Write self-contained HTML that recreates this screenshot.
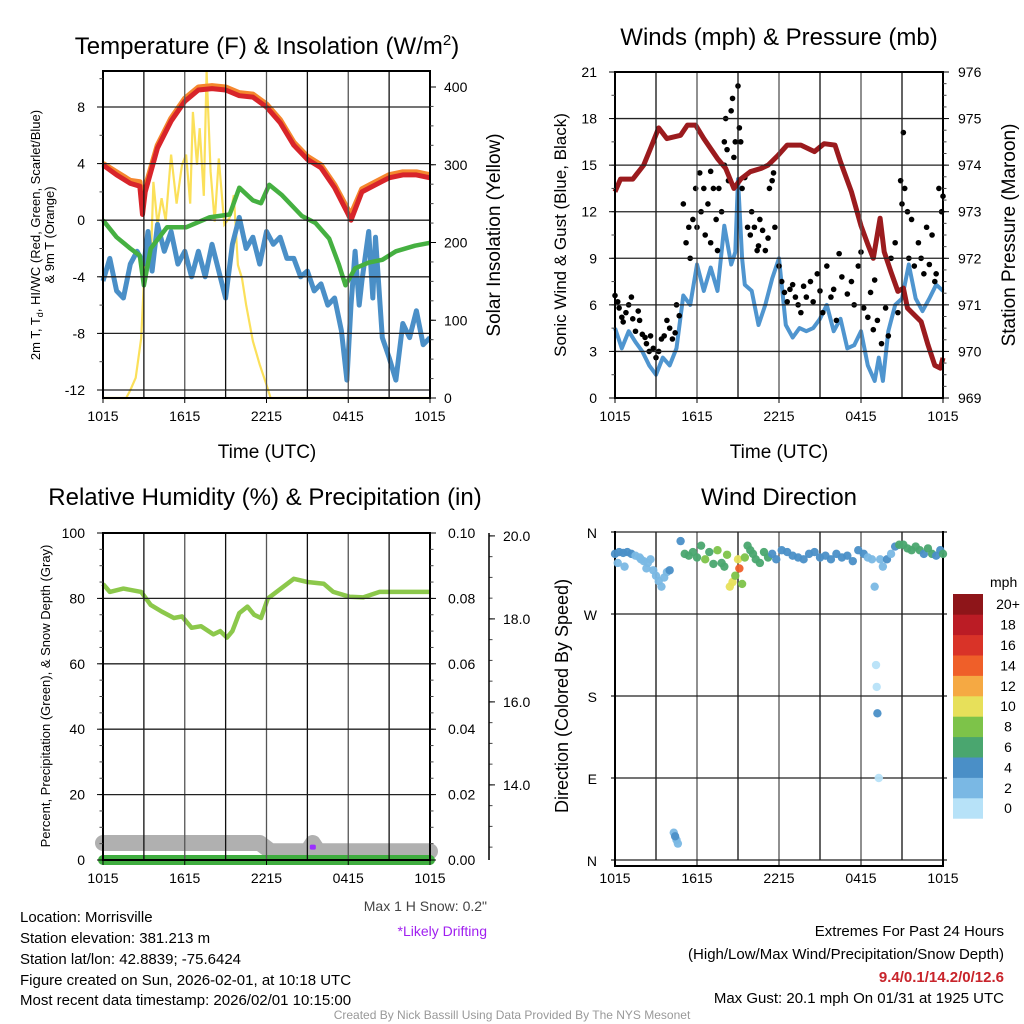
<!DOCTYPE html>
<html><head><meta charset="utf-8">
<style>
html,body{margin:0;padding:0;background:#fff;}
svg{display:block;font-family:"Liberation Sans",sans-serif;}
.nar{font-family:"Liberation Sans Narrow","Liberation Sans",sans-serif;}
</style></head>
<body>
<svg id="fig" width="1024" height="1024" viewBox="0 0 1024 1024" xmlns="http://www.w3.org/2000/svg">
<g id="layer"></g>
<!-- titles -->
<text x="267" y="54" font-size="24" text-anchor="middle">Temperature (F) &amp; Insolation (W/m<tspan dy="-9" font-size="15">2</tspan><tspan dy="9">)</tspan></text>
<text x="779" y="45" font-size="24" text-anchor="middle">Winds (mph) &amp; Pressure (mb)</text>
<text x="265" y="505" font-size="24" text-anchor="middle">Relative Humidity (%) &amp; Precipitation (in)</text>
<text x="779" y="505" font-size="24" text-anchor="middle">Wind Direction</text>
<text x="267" y="458" font-size="19" text-anchor="middle">Time (UTC)</text>
<text x="779" y="458" font-size="19" text-anchor="middle">Time (UTC)</text>
<text transform="translate(40,235) rotate(-90)" font-size="13" text-anchor="middle">2m T, T<tspan dy="3" font-size="9">d</tspan><tspan dy="-3">, HI/WC (Red, Green, Scarlet/Blue)</tspan></text>
<text transform="translate(54,235) rotate(-90)" font-size="13" text-anchor="middle">&amp; 9m T (Orange)</text>
<text transform="translate(500,235) rotate(-90)" font-size="19" text-anchor="middle">Solar Insolation (Yellow)</text>
<text transform="translate(566,235) rotate(-90)" font-size="17" text-anchor="middle">Sonic Wind &amp; Gust (Blue, Black)</text>
<text transform="translate(1015,235) rotate(-90)" font-size="19" text-anchor="middle">Station Pressure (Maroon)</text>
<text transform="translate(50,696) rotate(-90)" font-size="13" text-anchor="middle">Percent, Precipitation (Green), &amp; Snow Depth (Gray)</text>
<text transform="translate(568,696) rotate(-90)" font-size="18" text-anchor="middle">Direction (Colored By Speed)</text>
<!-- footer -->
<g class="nar" font-size="15">
<text x="20" y="922">Location: Morrisville</text>
<text x="20" y="943">Station elevation: 381.213 m</text>
<text x="20" y="964">Station lat/lon: 42.8839; -75.6424</text>
<text x="20" y="985">Figure created on Sun, 2026-02-01, at 10:18 UTC</text>
<text x="20" y="1005">Most recent data timestamp: 2026/02/01 10:15:00</text>
</g>
<text class="nar" x="487" y="911" font-size="14" fill="#444" text-anchor="end">Max 1 H Snow: 0.2"</text>
<text class="nar" x="487" y="936" font-size="14" fill="#a020f0" text-anchor="end">*Likely Drifting</text>
<g class="nar" font-size="15" text-anchor="end">
<text x="1004" y="936">Extremes For Past 24 Hours</text>
<text x="1004" y="959">(High/Low/Max Wind/Precipitation/Snow Depth)</text>
<text x="1004" y="982" font-weight="bold" fill="#c8242b">9.4/0.1/14.2/0/12.6</text>
<text x="1004" y="1003">Max Gust: 20.1 mph On 01/31 at 1925 UTC</text>
</g>
<text class="nar" x="512" y="1019" font-size="12" fill="#999" text-anchor="middle">Created By Nick Bassill Using Data Provided By The NYS Mesonet</text>
</svg>
<script>
// ---------- data (t = hours since 10:15 UTC) ----------
const timeTickLabels = ["1015","1615","2215","0415","1015"];
const tempTicks = [8,4,0,-4,-8,-12];
const solarTicks = [400,300,200,100,0];
const tempT = [0,1,2,2.7,2.9,3.1,4,5,6,7,8,9,10,11,12,13,14,15,16,17,18,18.2,19,20,21,22,23,24];
const tempV = [3.9,3.2,2.6,2.4,0.4,2.0,5.1,7.0,8.4,9.2,9.3,9.2,8.8,8.7,8.0,6.9,5.3,4.3,3.7,2.3,0.4,0.0,2.0,2.5,3.0,3.2,3.2,3.0];
const temp9mV = [4.0,3.4,2.8,2.7,1.0,2.3,5.3,7.2,8.6,9.4,9.5,9.4,9.0,8.9,8.2,7.1,5.5,4.5,3.9,2.5,0.7,0.4,2.2,2.7,3.2,3.4,3.4,3.2];
const greenT = [0,1,2,2.7,3,3.5,4.7,6.1,7.8,9.3,10,11,11.6,12.2,13.1,14.6,15.6,16.6,17.3,17.8,18.5,19.5,20.5,21.5,22.9,24];
const greenV = [0,-1.2,-2,-2.5,-4.6,-2,-0.5,-0.5,0.2,0.4,2.3,1.4,1.2,2.5,1.8,0.3,-0.2,-1.3,-3.1,-4.6,-3.4,-3,-2.8,-2.2,-1.8,-1.6];
const dewT = [0,0.5,1,1.5,2,2.5,3,3.3,3.6,4,4.5,5,5.5,6,6.5,7,7.5,8,8.5,9,9.5,10,10.5,11,11.5,12,12.5,13,13.5,14,14.5,15,15.5,16,16.5,17,17.5,17.9,18.2,18.5,18.8,19,19.5,19.8,20,20.5,21,21.5,22,22.5,23,23.5,24];
const dewV = [-4.3,-2.7,-5,-5.5,-3.1,-2.2,-3.1,-0.8,-3.6,-0.3,-2.2,-0.8,-3.1,-2.2,-4,-2.2,-4,-1.7,-3.6,-5.5,-1.7,0.2,-2,-1.2,-3.1,-0.8,-1.7,-1.2,-2.7,-2.7,-4,-3.6,-5,-4.5,-6,-5.5,-7.8,-11.3,-6,-2.2,-6,-4.3,-0.8,-5.5,-1.2,-8.3,-9.7,-11.3,-7.3,-8.3,-6.4,-8.8,-8.3];
const solarT = [0,1.7,2.0,2.4,2.8,3.0,3.2,3.5,3.7,4.0,4.3,4.6,5.0,5.4,5.8,6.1,6.4,6.6,6.9,7.1,7.4,7.6,7.9,8.2,8.5,8.9,9.3,9.6,9.9,10.2,10.5,11,11.5,12,12.3,24];
const solarV = [0,0,10,26,77,150,214,171,278,223,257,228,313,250,300,313,250,368,300,347,260,420,291,227,308,223,232,261,171,154,120,73,43,17,0,0];
const windTicks = [0,3,6,9,12,15,18,21];
const presTicks = [969,970,971,972,973,974,975,976];
const presT = [0,0.4,1.3,2.1,2.6,3.2,3.8,4.8,5.3,5.9,6.5,7.5,8.1,8.7,9.2,9.9,10.7,11.2,11.9,12.6,13.6,14.6,15.3,16.1,16.5,17.3,18,18.5,18.9,19.4,19.7,20.2,20.7,21.1,21.4,22.4,22.9,23.4,23.8,24];
const presV = [973.43,973.7,973.7,974,974.36,974.8,974.57,974.64,974.86,974.86,974.57,974.14,973.93,973.5,973.7,973.86,973.93,974,974.2,974.43,974.43,974.29,974.46,974.43,974.07,973.43,972.7,972.3,972,972.86,972.14,971.7,971.29,971.36,970.93,970.64,970.14,969.7,969.64,969.86];
const windT = [0,0.5,1,1.5,2,2.5,3,3.5,4,4.5,5,5.5,6,6.5,7,7.5,8,8.5,8.8,9,9.3,9.5,10,10.5,11,11.5,12,12.5,13,13.5,14,14.5,15,15.5,16,16.5,17,17.5,18,18.5,19,19.3,19.6,20,20.5,21,21.5,22,22.5,23,23.5,24];
const windV = [4.5,3.2,4.3,3.6,3.0,2.1,1.5,2.6,2.1,3.2,6.6,6.0,8.6,6.9,8.4,6.9,11.1,8.6,9.4,14.1,9.0,7.3,6.9,4.7,6.0,7.7,9.0,4.7,3.9,4.5,4.3,4.5,5.1,6.0,4.3,5.1,3.2,3.4,4.3,2.1,1.1,2.6,1.1,4.3,6.0,6.4,8.6,6.4,5.6,6.4,7.3,6.9];
const gustT = [0,0.2,0.3,0.5,0.6,0.8,1,1.2,1.3,1.5,1.7,1.8,2,2.2,2.3,2.5,2.6,2.8,3,3.2,3.4,3.6,3.8,4,4.2,4.4,4.5,4.7,5,5.2,5.4,5.5,5.7,5.9,6,6.2,6.3,6.5,6.6,6.8,7,7,7.2,7.4,7.5,7.6,7.8,8,8,8.1,8.2,8.3,8.5,8.6,8.7,8.8,9,9.1,9.2,9.3,9.5,9.7,9.9,10,10.2,10.4,10.5,10.6,10.8,11,11.2,11.3,11.5,11.6,11.7,12,12.2,12.4,12.6,12.8,13,13.2,13.4,13.6,13.8,14,14.3,14.5,14.8,15,15.2,15.5,15.8,16,16.2,16.4,16.6,17,17.3,17.5,17.8,18,18.2,18.5,18.7,18.9,19,19.2,19.5,19.8,20,20.2,20.5,20.7,20.9,21,21.1,21.2,21.4,21.5,21.7,21.9,22.2,22.4,22.6,22.8,23,23.2,23.4,23.5,23.7,23.9,24];
const gustV = [6.6,6.2,5.8,5.2,4.9,5.5,6.0,6.5,5.1,4.3,5.6,5.0,4.1,3.9,3.5,3.0,4.0,3.2,2.6,3.0,3.8,4.0,5.0,4.5,3.8,4.2,6.0,5.3,12.5,10,11,9,11.5,13.5,11,14.5,12,13.5,10.5,12.5,14.6,10,13.5,11.5,9.5,13.5,12,16.5,15,18,16,14,18.5,19.3,15.5,16.5,20.1,17.4,16.5,13.5,14.2,11,10.5,12,11,9.5,9.8,11.5,10.8,9.5,10.3,13.5,14,14.5,11,8.5,7.5,6.8,6.2,7.0,7.3,6.5,6.0,5.5,7.2,6.5,7.5,6.2,8,6.9,5.5,8.5,6.5,7.0,5.0,9.3,7.8,6.7,7.5,6.0,8.5,9.4,5.8,5.2,6.8,4.4,7.6,5.0,3.5,5.8,4.0,9.0,10,5.5,14.0,12.5,17.1,13.5,12,9,11.5,8.5,10,9,8,11,8.6,10.5,7.5,8.0,13.5,12,13];
const rhTicks = [0,20,40,60,80,100];
const precipTicks = ["0.00","0.02","0.04","0.06","0.08","0.10"];
const snowTicks = ["14.0","16.0","18.0","20.0"];
const rhT = [0,0.5,1.5,2.8,3.5,4.3,5.2,5.8,6.5,7.2,8.1,8.6,9.1,9.5,10,10.6,11.1,11.6,12.1,12.9,14,15,16.2,16.9,18.1,19.1,20.3,22,24];
const rhV = [84.4,82,83,82,78,76,74,74.5,71,71.5,69,70,68,70,75.5,77.5,75,74,80,82.5,86,85,84.5,82,80.5,80.3,82,82,82];
const precipT = [0,24];
const precipV = [0,0];
const snowT = [0,11.5,12.3,15.0,15.4,15.8,24];
const snowV = [12.6,12.6,12.4,12.4,12.6,12.4,12.4];
const driftT = [15.4];
const driftV = [12.5];
const dirTicks = ["N","E","S","W","N"];
const dirT = [0,0.3,0.6,0.9,1.2,1.5,1.8,2.1,2.4,2.6,2.8,3.0,3.2,3.4,3.6,3.8,4.0,0.2,0.7,1.9,2.3,4.8,5.1,5.4,5.7,6.0,6.3,6.6,6.9,7.2,7.5,7.8,8.0,8.2,8.4,8.6,8.8,9.0,9.1,9.3,9.5,9.7,9.9,10.1,10.3,10.6,10.9,11.2,11.5,11.8,12.2,12.6,13.0,13.4,13.8,14.2,14.6,15.0,15.4,15.8,16.2,16.6,17.0,17.4,17.8,18.2,18.5,18.8,19.0,19.1,19.15,19.2,19.3,19.4,19.6,19.9,20.2,20.5,20.8,21.1,21.4,21.7,22.0,22.3,22.6,22.9,23.2,23.5,23.8,24,4.3,4.5,4.6,4.4];
const dirV = [336,338,337,338,336,334,332,328,326,330,318,312,306,300,310,316,318,326,322,330,320,350,336,334,338,332,345,330,338,325,340,326,322,335,300,305,312,330,320,303,332,345,340,336,330,326,338,332,336,330,340,338,334,332,330,336,338,332,334,330,336,332,334,328,340,336,332,330,300,214,190,161,90,330,322,330,336,344,346,346,342,340,344,340,336,342,336,334,340,336,30,22,18,26];
const dirS = [4,4,4,4,4,3,3,2,2,3,2,2,2,2,2,2,4,2,2,2,2,4,6,6,7,7,6,8,6,7,8,6,7,9,10,10,9,10,15,9,8,6,7,7,6,7,7,6,5,4,4,4,4,4,4,4,4,4,4,4,4,4,4,4,4,4,3,3,2,0,1,4,0,2,3,4,3,5,6,6,7,7,6,6,5,6,6,4,5,7,2,3,3,4];
const speedBins = ["0","2","4","6","8","10","12","14","16","18","20+"];
const speedColors = ["#b7e2f8","#7ab8e4","#4a8fc7","#4aa66f","#7dc349","#e7e05a","#f5a943","#ef5f29","#d93328","#bb1c25","#8e1519"];

// ---------- helpers ----------
const NS = "http://www.w3.org/2000/svg";
const layer = document.getElementById("layer");
function mk(tag, attrs, parent) {
  const e = document.createElementNS(NS, tag);
  for (const k in attrs) e.setAttribute(k, attrs[k]);
  (parent || layer).appendChild(e);
  return e;
}
function lin(d0, d1, r0, r1) { return v => r0 + (v - d0) * (r1 - r0) / (d1 - d0); }
function pathOf(ts, vs, sx, sy) {
  return ts.map((t, i) => (i ? "L" : "M") + sx(t).toFixed(1) + "," + sy(vs[i]).toFixed(1)).join("");
}
function frame(x0, y0, x1, y1, name) {
  const g = mk("g", {});
  
  
  const sx = lin(0, 24, x0, x1);
  for (let h = 3; h < 24; h += 3) {
    const l = mk("line", {x1: sx(h), x2: sx(h), y1: y0, y2: y1, stroke: h % 6 ? "#111" : "#555", "stroke-width": 1.3}, g);
    
    
  }
  timeTickLabels.forEach((lab, i) => {
    const x = sx(i * 6);
    mk("line", {x1: x, x2: x, y1: y1, y2: y1 + 5, stroke: "#000"}, g);
    const t = mk("text", {x: x, y: y1 + 23, "font-size": 14, "text-anchor": "middle"}, g);
    t.textContent = lab;
    
    
  });
  return {g, sx};
}
function hgrid(g, x0, x1, y) {
  mk("line", {x1: x0, x2: x1, y1: y, y2: y, stroke: "#222", "stroke-width": 1.3}, g);
}
function border(g, x0, y0, x1, y1) {
  mk("rect", {x: x0, y: y0, width: x1 - x0, height: y1 - y0, fill: "none", stroke: "#000", "stroke-width": 2}, g);
}
function yTicks(g, x, vals, sy, side, labels, fs, lx) {
  vals.forEach((v, i) => {
    const y = sy(v);
    mk("line", {x1: x, x2: x + side * 6, y1: y, y2: y, stroke: "#000"}, g);
    const t = mk("text", {x: lx, y: y + 5, "font-size": fs, "text-anchor": side < 0 ? "end" : "start"}, g);
    t.textContent = labels ? labels[i] : String(v);
    
    
  });
}
function minor(g, x, from, to, step, sy, side) {
  for (let v = from; v <= to + 1e-9; v += step) {
    const y = sy(v);
    mk("line", {x1: x, x2: x + side * 3.5, y1: y, y2: y, stroke: "#444"}, g);
  }
}

// ---------- panel 1: temperature ----------
(function () {
  const x0 = 103, x1 = 430, y0 = 71, y1 = 398;
  const {g, sx} = frame(x0, y0, x1, y1, "temperature-panel");
  const sy = lin(-12, 8, 390, 107);
  const ss = lin(0, 400, 398, 87);
  tempTicks.forEach(v => hgrid(g, x0, x1, sy(v)));
  let p;
  p = mk("path", {d: pathOf(solarT, solarV, sx, ss), fill: "none", stroke: "#fbe05a", "stroke-width": 2.2});
  
  
  p = mk("path", {d: pathOf(dewT, dewV, sx, sy), fill: "none", stroke: "#4a8fc7", "stroke-width": 5, "stroke-linejoin": "round"});
  
  
  p = mk("path", {d: pathOf(greenT, greenV, sx, sy), fill: "none", stroke: "#45b041", "stroke-width": 4.5, "stroke-linejoin": "round"});
  
  
  p = mk("path", {d: pathOf(tempT, temp9mV, sx, sy), fill: "none", stroke: "#f5872e", "stroke-width": 5.5, "stroke-linejoin": "round"});
  
  
  p = mk("path", {d: pathOf(tempT, tempV, sx, sy), fill: "none", stroke: "#d8242a", "stroke-width": 5, "stroke-linejoin": "round"});
  
  
  border(g, x0, y0, x1, y1);
  layer.appendChild(g);
  minor(g, x0, -12, 10, 2, sy, -1);
  yTicks(g, x0, tempTicks, sy, -1, null, 14, 85);
  minor(g, x1, 0, 410, 25, ss, 1);
  yTicks(g, x1, solarTicks, ss, 1, null, 14, 444);
})();

// ---------- panel 2: winds ----------
(function () {
  const x0 = 615, x1 = 943, y0 = 72, y1 = 398;
  const {g, sx} = frame(x0, y0, x1, y1, "winds-panel");
  const sy = lin(0, 21, 398, 72);
  const sp = lin(969, 976, 398, 72);
  windTicks.forEach(v => hgrid(g, x0, x1, sy(v)));
  let p = mk("path", {d: pathOf(windT, windV, sx, sy), fill: "none", stroke: "#4f95cf", "stroke-width": 4, "stroke-linejoin": "round"});
  
  
  gustT.forEach((t, i) => {
    const c = mk("circle", {cx: sx(t), cy: sy(gustV[i]), r: 2.8, fill: "#000"});
    
    
  });
  p = mk("path", {d: pathOf(presT, presV, sx, sp), fill: "none", stroke: "#9b1b1e", "stroke-width": 5, "stroke-linejoin": "round"});
  
  
  border(g, x0, y0, x1, y1);
  layer.appendChild(g);
  minor(g, x0, 0, 21, 1.5, sy, -1);
  yTicks(g, x0, windTicks, sy, -1, null, 14, 597);
  minor(g, x1, 969, 976, 0.25, sp, 1);
  yTicks(g, x1, presTicks, sp, 1, null, 14, 958);
})();

// ---------- panel 3: humidity ----------
(function () {
  const x0 = 103, x1 = 430, y0 = 533, y1 = 860;
  const {g, sx} = frame(x0, y0, x1, y1, "humidity-panel");
  const sy = lin(0, 100, 860, 533);
  const sn = lin(12.19, 20.07, 860, 533);
  rhTicks.forEach(v => hgrid(g, x0, x1, sy(v)));
  let p = mk("path", {d: pathOf(snowT, snowV, sx, sn), fill: "none", stroke: "#b0b0b0", "stroke-width": 16, "stroke-linecap": "round", "stroke-linejoin": "round"});
  
  
  driftT.forEach((t, i) => {
    const c = mk("rect", {x: sx(t) - 3, y: sn(driftV[i]) - 2.5, width: 6, height: 5, rx: 1.5, fill: "#9b30ff"});
    
    
  });
  p = mk("path", {d: pathOf(precipT, precipV, sx, v => sy(v * 1000)), fill: "none", stroke: "#3fad3f", "stroke-width": 10, "stroke-linecap": "round"});
  
  
  mk("line", {x1: x0, x2: x1, y1: 860, y2: 860, stroke: "#111", "stroke-width": 2});
  p = mk("path", {d: pathOf(rhT, rhV, sx, sy), fill: "none", stroke: "#8cc84b", "stroke-width": 4.5, "stroke-linejoin": "round"});
  
  
  border(g, x0, y0, x1, y1);
  layer.appendChild(g);
  minor(g, x0, 0, 100, 5, sy, -1);
  yTicks(g, x0, rhTicks, sy, -1, null, 14, 85);
  minor(g, x1, 0, 100, 5, sy, 1);
  yTicks(g, x1, rhTicks, sy, 1, precipTicks, 14, 448);
  const ax = mk("line", {x1: 489, x2: 489, y1: 533, y2: 860, stroke: "#000", "stroke-width": 1.5});
  
  
  minor(g, 489, 12.5, 20, 0.5, sn, 1);
  yTicks(g, 489, [14, 16, 18, 20], sn, 1, snowTicks, 14, 503);
})();

// ---------- panel 4: wind direction ----------
(function () {
  const x0 = 615, x1 = 943, y0 = 532, y1 = 860;
  const {g, sx} = frame(x0, y0, x1, y1, "wind-direction-panel");
  const sy = lin(0, 360, 860, 532);
  dirTicks.forEach((lab, i) => hgrid(g, x0 - 4, x1 + 4, sy(i * 90)));
  border(g, x0, y0 - 6, x1, y1 + 6);
  mk("rect", {x: x0 - 1, y: y0 - 10, width: x1 - x0 + 6, height: 9, fill: "#fff"}, g);
  dirTicks.forEach((lab, i) => {
    const t = mk("text", {x: 597, y: sy(i * 90) + 6, "font-size": 14, "text-anchor": "end"}, g);
    t.textContent = lab;
    
    
  });
  layer.appendChild(g);
  dirT.forEach((t, i) => {
    const bin = Math.min(10, Math.floor(dirS[i] / 2));
    const c = mk("circle", {cx: sx(t), cy: sy(dirV[i]), r: 4.2, fill: speedColors[bin], "fill-opacity": 0.95});
    
    
  });
  const lg = mk("g", {});
  
  
  const t0 = mk("text", {x: 990, y: 587, "font-size": 14}, lg);
  t0.textContent = "mph";
  const bh = 20.4, top = 594;
  speedBins.forEach((lab, i) => {
    const y = top + (10 - i) * bh;
    const r = mk("rect", {x: 953, y: y, width: 30, height: bh + 0.3, fill: speedColors[i]}, lg);
    
    
    const t = mk("text", {x: 1008, y: y + bh / 2 + 5, "font-size": 14, "text-anchor": "middle"}, lg);
    t.textContent = lab;
    
    
  });
})();
</script>
</body></html>
